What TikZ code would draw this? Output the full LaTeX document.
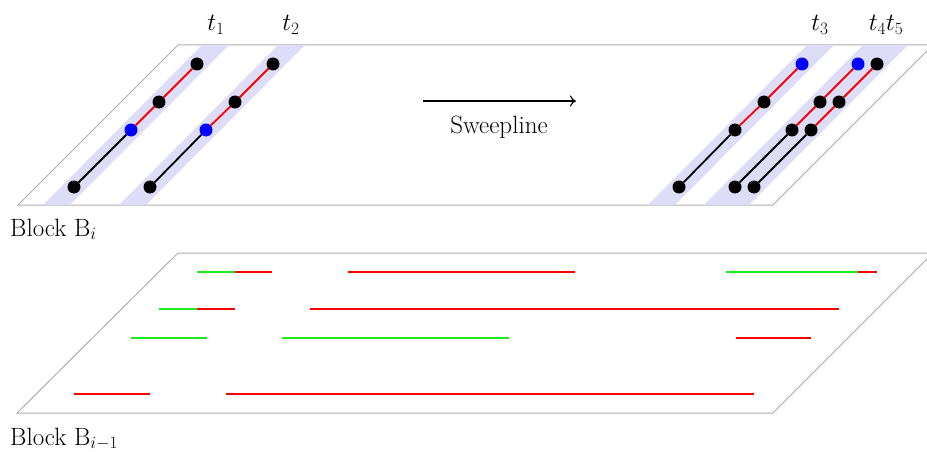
\documentclass[tikz,border=0pt]{standalone}
\usetikzlibrary{arrows.meta}
\definecolor{bandblue}{RGB}{221,221,248}
\definecolor{segred}{RGB}{255,0,0}
\definecolor{seggreen}{RGB}{30,235,30}
\definecolor{dotblue}{RGB}{0,0,255}
\begin{document}
\begin{tikzpicture}[x=1pt,y=-1pt,
  font=\fontsize{25}{30}\selectfont,
  plane/.style={draw=black!32, line width=1pt},
  band/.style={fill=bandblue},
  dotk/.style={circle, fill=black, inner sep=0pt, minimum size=13pt},
  dotb/.style={circle, fill=dotblue, inner sep=0pt, minimum size=13pt},
  lowseg/.style={draw=black, line width=1.8pt},
  highseg/.style={draw=segred, line width=1.8pt},
  rseg/.style={draw=segred, line width=2.2pt},
  gseg/.style={draw=seggreen, line width=2.2pt},
  lbl/.style={anchor=base, inner sep=0pt}]
\useasboundingbox (0,0) rectangle (927,452);

% planes
\draw[plane] (18,205) -- (773,205) -- (933,45) -- (178,45) -- cycle;
\draw[plane] (17,413) -- (773,413) -- (933,253) -- (178,253) -- cycle;

% bands
\fill[band] (43,205) -- (70,205) -- (229,45) -- (202,45) -- cycle;
\fill[band] (119,205) -- (146,205) -- (305,45) -- (278,45) -- cycle;
\fill[band] (648,205) -- (675,205) -- (834,45) -- (807,45) -- cycle;
\fill[band] (704,205) -- (749,205) -- (908,45) -- (863,45) -- cycle;

% dots t1
\node[dotk] (a1) at (74,187) {};
\node[dotb] (a2) at (131,130) {};
\node[dotk] (a3) at (159,102) {};
\node[dotk] (a4) at (197,64) {};
% t2
\node[dotk] (b1) at (150,187) {};
\node[dotb] (b2) at (206,130) {};
\node[dotk] (b3) at (235,102) {};
\node[dotk] (b4) at (273,64) {};
% t3
\node[dotk] (c1) at (679,187) {};
\node[dotk] (c2) at (735,130) {};
\node[dotk] (c3) at (764,102) {};
\node[dotb] (c4) at (802,64) {};
% t4
\node[dotk] (d1) at (735,187) {};
\node[dotk] (d2) at (792,130) {};
\node[dotk] (d3) at (820,102) {};
\node[dotb] (d4) at (858,64) {};
% t5
\node[dotk] (e1) at (754,187) {};
\node[dotk] (e2) at (811,130) {};
\node[dotk] (e3) at (839,102) {};
\node[dotk] (e4) at (877,64) {};

\foreach \p in {a,b,c,d,e}{
  \draw[lowseg] (\p1) -- (\p2);
  \draw[highseg] (\p2) -- (\p3) -- (\p4);
}

% labels
\node[lbl] (t1) at (216,31) {$t_1$};
\node[lbl] (t2) at (291,31) {$t_2$};
\node[lbl] (t3) at (820,31) {$t_3$};
\node[lbl] (t45) at (886,31) {$t_4t_5$};

% sweepline
\coordinate (sw1) at (423,101);
\coordinate (sw2) at (576,101);
\draw[line width=1.1pt, -{To[length=6pt,width=11pt]}] (sw1) -- (sw2);
\node[lbl] (swl) at (499,133) {Sweepline};

\node[anchor=base west, inner sep=0pt] (bi) at (10,236) {Block B$_i$};
\node[anchor=base west, inner sep=0pt] (bim) at (10,445) {Block B$_{i-1}$};

% lower block segments
\draw[gseg] (197,272) -- (235,272);
\draw[rseg] (235,272) -- (272,272);
\draw[rseg] (348,272) -- (575,272);
\draw[gseg] (726,272) -- (858,272);
\draw[rseg] (858,272) -- (877,272);

\draw[gseg] (159,309) -- (197,309);
\draw[rseg] (197,309) -- (235,309);
\draw[rseg] (310,309) -- (839,309);

\draw[gseg] (131,338) -- (207,338);
\draw[gseg] (282,338) -- (509,338);
\draw[rseg] (736,338) -- (811,338);

\draw[rseg] (74,394) -- (150,394);
\draw[rseg] (226,394) -- (754,394);
\end{tikzpicture}
\end{document}
